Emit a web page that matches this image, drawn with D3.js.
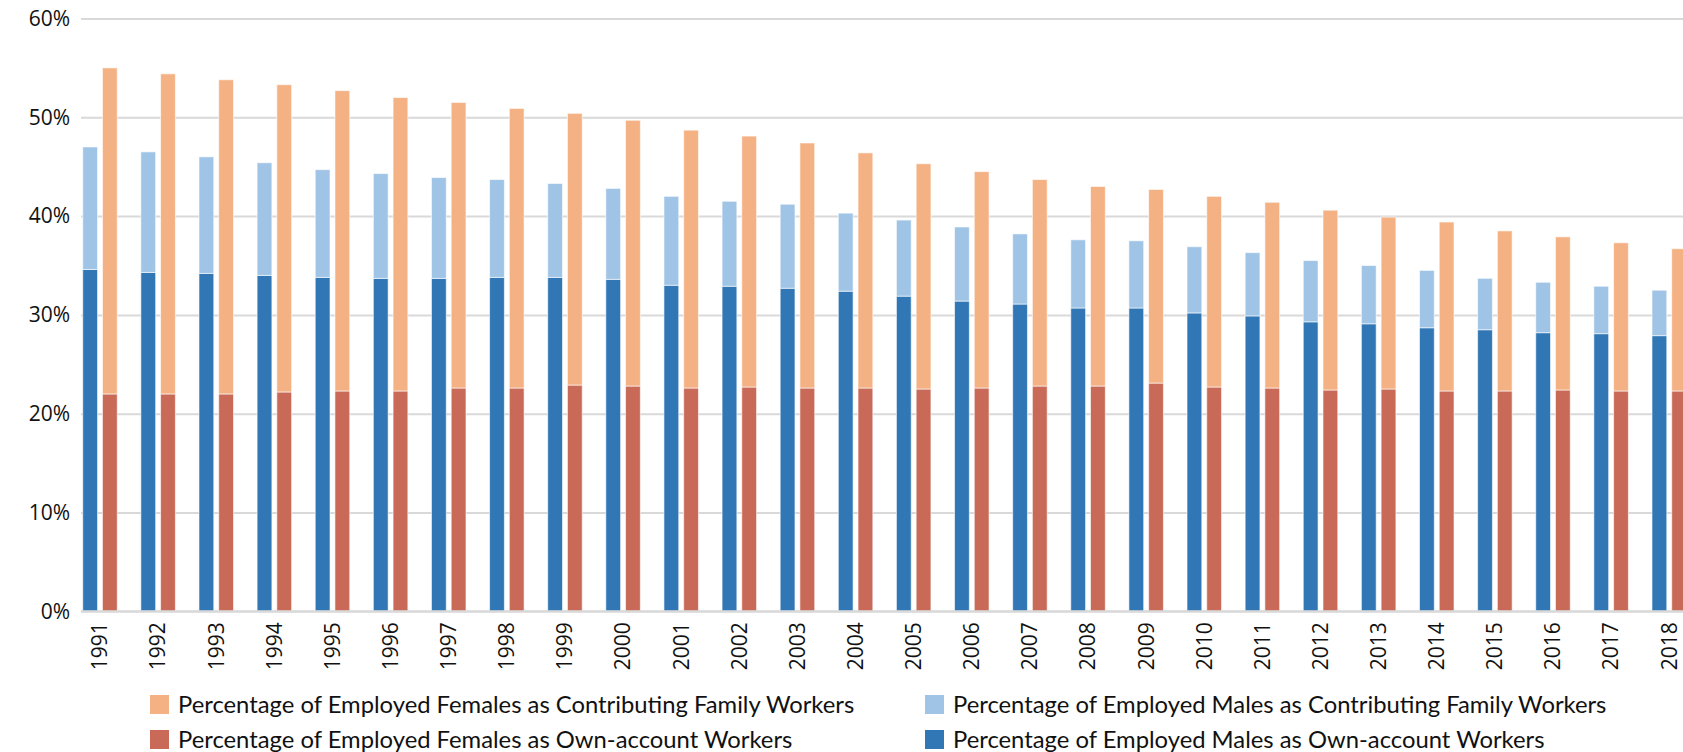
<!DOCTYPE html>
<html>
<head>
<meta charset="utf-8">
<script src="https://cdn.jsdelivr.net/npm/d3@7"></script>
<style>
  body { margin: 0; background: #fff; }
  svg { display: block; }
  .tick text { font-family: "Open Sans", sans-serif; fill: #111; }
  .legend text { font-family: Lato, "Noto Sans", sans-serif; fill: #111; }
</style>
</head>
<body>
<svg id="chart"></svg>
<script>
var years = ["1991","1992","1993","1994","1995","1996","1997","1998","1999","2000",
  "2001","2002","2003","2004","2005","2006","2007","2008","2009","2010",
  "2011","2012","2013","2014","2015","2016","2017","2018"];

// percentages
var maleOwn = [34.6,34.3,34.2,34.0,33.8,33.7,33.7,33.8,33.8,33.6,33.0,32.9,32.7,32.4,
  31.9,31.4,31.1,30.7,30.7,30.2,29.9,29.3,29.1,28.7,28.5,28.2,28.1,27.9];
var maleFamily = [12.4,12.2,11.8,11.4,10.9,10.6,10.2,9.9,9.5,9.2,9.0,8.6,8.5,7.9,
  7.7,7.5,7.1,6.9,6.8,6.7,6.4,6.2,5.9,5.8,5.2,5.1,4.8,4.6];
var femaleOwn = [22.0,22.0,22.0,22.2,22.3,22.3,22.6,22.6,22.9,22.8,22.6,22.7,22.6,22.6,
  22.5,22.6,22.8,22.8,23.1,22.7,22.6,22.4,22.5,22.3,22.3,22.4,22.3,22.3];
var femaleFamily = [33.0,32.4,31.8,31.1,30.4,29.7,28.9,28.3,27.5,26.9,26.1,25.4,24.8,23.8,
  22.8,21.9,20.9,20.2,19.6,19.3,18.8,18.2,17.4,17.1,16.2,15.5,15.0,14.4];

var yTicks = [0, 10, 20, 30, 40, 50, 60];

var legendItems = [
  {label: "Percentage of Employed Females as Contributing Family Workers", color: "#f4b183"},
  {label: "Percentage of Employed Males as Contributing Family Workers", color: "#9fc4e6"},
  {label: "Percentage of Employed Females as Own-account Workers", color: "#c96a58"},
  {label: "Percentage of Employed Males as Own-account Workers", color: "#3177b5"}
];

var W = 1683, H = 752;
var svg = d3.select("#chart").attr("width", W).attr("height", H);

var plotLeft = 81;
var step = 58.12;
var x = d3.scaleBand().domain(years)
    .range([100 - step / 2, 100 - step / 2 + step * years.length])
    .paddingInner(0.406).paddingOuter(0.203);
var sub = d3.scaleBand().domain(["m", "f"]).range([0, x.bandwidth()]).paddingInner(0.25);

var y = d3.scaleLinear().domain([0, 60]).range([611.3, 18.5]);

// gridlines + y labels
var yAxis = svg.append("g")
    .attr("transform", "translate(" + plotLeft + ",0)")
    .call(d3.axisLeft(y).tickValues(yTicks).tickFormat(d => d + "%")
      .tickSize(-(W - plotLeft)).tickPadding(11));
yAxis.select(".domain").remove();
yAxis.selectAll(".tick line").attr("stroke", "#d9d9d9").attr("stroke-width", 2);
yAxis.selectAll(".tick text").style("font-size", "21px");

// bars
var stackRows = years.map(function(yr, i) {
  return {year: yr, mOwn: maleOwn[i], mFam: maleFamily[i], fOwn: femaleOwn[i], fFam: femaleFamily[i]};
});

var groups = svg.append("g").selectAll("g").data(stackRows).enter()
    .append("g").attr("transform", d => "translate(" + x(d.year) + ",0)");

function segs(d) {
  return [
    {k: "m", y0: 0, y1: d.mOwn, c: "#3177b5"},
    {k: "m", y0: d.mOwn, y1: d.mOwn + d.mFam, c: "#9fc4e6"},
    {k: "f", y0: 0, y1: d.fOwn, c: "#c96a58"},
    {k: "f", y0: d.fOwn, y1: d.fOwn + d.fFam, c: "#f4b183"}
  ];
}

groups.selectAll("rect").data(segs).enter().append("rect")
    .attr("x", s => sub(s.k))
    .attr("width", sub.bandwidth())
    .attr("y", s => y(s.y1))
    .attr("height", s => y(s.y0) - y(s.y1))
    .attr("fill", s => s.c)
    .attr("stroke", "#fff").attr("stroke-opacity", 0.6).attr("stroke-width", 1);

// baseline on top of bars
svg.append("line").attr("x1", plotLeft).attr("x2", W)
    .attr("y1", y(0)).attr("y2", y(0))
    .attr("stroke", "#d9d9d9").attr("stroke-width", 2);

// x labels
var xAxis = svg.append("g")
    .attr("transform", "translate(0," + y(0) + ")")
    .call(d3.axisBottom(x).tickSize(0).tickPadding(0));
xAxis.select(".domain").remove();
xAxis.selectAll(".tick text")
    .style("font-size", "21px")
    .attr("text-anchor", "end")
    .attr("transform", "rotate(-90)")
    .attr("x", -11).attr("y", 0).attr("dy", "0.35em");

// legend
var legPos = [[150, 695], [925, 695], [150, 730], [925, 730]];
var leg = svg.append("g").attr("class", "legend").selectAll("g").data(legendItems).enter()
    .append("g").attr("transform", (d, i) => "translate(" + legPos[i][0] + "," + legPos[i][1] + ")");
leg.append("rect").attr("width", 19).attr("height", 19).attr("fill", d => d.color);
leg.append("text").attr("x", 28).attr("y", 18).style("font-size", "23.8px").text(d => d.label);
</script>
</body>
</html>
